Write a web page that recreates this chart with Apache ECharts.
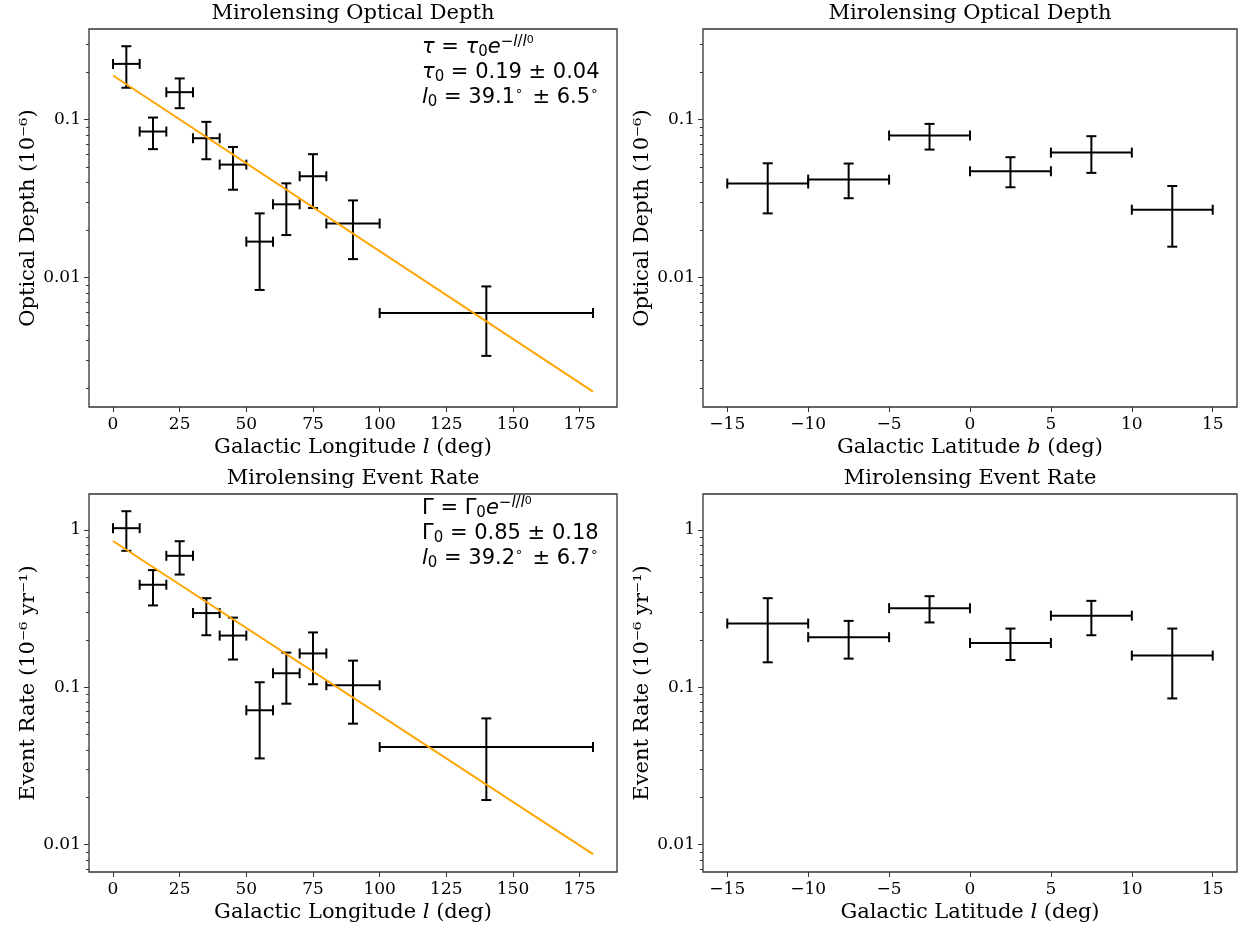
<!DOCTYPE html>
<html>
<head>
<meta charset="utf-8">
<script src="https://cdn.jsdelivr.net/npm/echarts@6/dist/echarts.min.js"></script>
<style>html,body{margin:0;padding:0;background:#fff}#c{width:1242px;height:929px}</style>
</head>
<body>
<div id="c"></div>
<script>
// ---------- data ----------
const lonCenter = [5, 15, 25, 35, 45, 55, 65, 75, 90, 140];
const lonLow    = [0, 10, 20, 30, 40, 50, 60, 70, 80, 100];
const lonHigh   = [10, 20, 30, 40, 50, 60, 70, 80, 100, 180];

const depthLon   = [0.225, 0.084, 0.149, 0.0762, 0.0519, 0.0169, 0.0291, 0.0438, 0.022, 0.00597];
const depthLonLo = [0.159, 0.065, 0.118, 0.0561, 0.036, 0.00836, 0.0186, 0.0276, 0.0131, 0.0032];
const depthLonHi = [0.291, 0.103, 0.182, 0.0967, 0.0671, 0.0255, 0.0395, 0.0604, 0.0308, 0.0088];

const rateLon   = [1.025, 0.448, 0.684, 0.296, 0.213, 0.0714, 0.1227, 0.164, 0.103, 0.0417];
const rateLonLo = [0.736, 0.331, 0.52, 0.214, 0.150, 0.0353, 0.0786, 0.1045, 0.0587, 0.0192];
const rateLonHi = [1.314, 0.555, 0.847, 0.368, 0.277, 0.1076, 0.166, 0.223, 0.1476, 0.0634];

const latCenter = [-12.5, -7.5, -2.5, 2.5, 7.5, 12.5];
const latLow    = [-15, -10, -5, 0, 5, 10];
const latHigh   = [-10, -5, 0, 5, 10, 15];

const depthLat   = [0.0394, 0.0417, 0.0792, 0.0471, 0.0618, 0.0269];
const depthLatLo = [0.0255, 0.0318, 0.0646, 0.0373, 0.046, 0.0157];
const depthLatHi = [0.0529, 0.0527, 0.0939, 0.0578, 0.0785, 0.038];

const rateLat   = [0.254, 0.208, 0.318, 0.191, 0.285, 0.159];
const rateLatLo = [0.144, 0.152, 0.258, 0.149, 0.214, 0.0849];
const rateLatHi = [0.368, 0.264, 0.379, 0.236, 0.354, 0.236];

// fit lines (endpoints)
const depthFitL = [0, 180];
const depthFitV = [0.19, 0.0019];
const rateFitL  = [0, 180];
const rateFitV  = [0.85, 0.0087];

// tick labels
const lonTicks = [0, 25, 50, 75, 100, 125, 150, 175];
const latTicks = [-15, -10, -5, 0, 5, 10, 15];
const logMajor = [0.001, 0.01, 0.1, 1];
const logMinor = [0.002,0.003,0.004,0.005,0.006,0.007,0.008,0.009,
                  0.02,0.03,0.04,0.05,0.06,0.07,0.08,0.09,
                  0.2,0.3,0.4,0.5,0.6,0.7,0.8,0.9];

// ---------- build ----------
const SERIF = 'DejaVu Serif';
const MATH = 'DejaVu Sans';
const AX = '#333';

const grids = [
  {left: 89,  top: 29,  width: 528, height: 378},
  {left: 703, top: 29,  width: 534, height: 378},
  {left: 89,  top: 494, width: 528, height: 378},
  {left: 703, top: 494, width: 534, height: 378}
];
const xRanges = [[-9, 189], [-16.5, 16.5], [-9, 189], [-16.5, 16.5]];
const yRanges = [[0.00152, 0.374], [0.00152, 0.374], [0.0067, 1.69], [0.0067, 1.69]];
const xNames = ['Galactic Longitude {i|l} (deg)', 'Galactic Latitude {i|b} (deg)',
                'Galactic Longitude {i|l} (deg)', 'Galactic Latitude {i|l} (deg)'];
const yNames = ['Optical Depth (10⁻⁶)', 'Optical Depth (10⁻⁶)',
                'Event Rate (10⁻⁶ yr⁻¹)', 'Event Rate (10⁻⁶ yr⁻¹)'];
const titles = ['Mirolensing Optical Depth', 'Mirolensing Optical Depth',
                'Mirolensing Event Rate', 'Mirolensing Event Rate'];

function inRange(vals, r) { return vals.filter(v => v >= r[0] && v <= r[1]); }
function fmtLog(v) { return v >= 1 ? String(Math.round(v)) : String(+Number(v).toPrecision(1)); }

const xAxis = grids.map((g, i) => {
  const ticks = (i % 2 === 0) ? lonTicks : latTicks;
  return {
    type: 'value', gridIndex: i, min: xRanges[i][0], max: xRanges[i][1], position: 'bottom',
    axisLine: {show: false, onZero: false},
    axisTick: {show: true, length: 5, lineStyle: {color: AX, width: 1}, customValues: ticks},
    axisLabel: {show: true, customValues: ticks, margin: 9, color: '#000',
                fontFamily: SERIF, fontSize: 17,
                formatter: v => String(v).replace('-', '\u2212')},
    splitLine: {show: false},
    name: xNames[i], nameLocation: 'middle', nameGap: 30,
    nameTextStyle: {fontFamily: SERIF, fontSize: 21, color: '#000',
                    rich: {i: {fontFamily: SERIF, fontStyle: 'italic', fontSize: 21, color: '#000'}}}
  };
});

const yAxis = [];
grids.forEach((g, i) => {
  const major = inRange(logMajor, yRanges[i]);
  yAxis.push({
    type: 'log', logBase: 10, gridIndex: i, min: yRanges[i][0], max: yRanges[i][1], position: 'left',
    axisLine: {show: false, onZero: false},
    axisTick: {show: true, length: 5, lineStyle: {color: AX, width: 1}, customValues: major},
    axisLabel: {show: true, customValues: major, margin: 8, color: '#000',
                fontFamily: SERIF, fontSize: 17, formatter: v => fmtLog(v)},
    splitLine: {show: false},
    name: yNames[i], nameLocation: 'middle', nameGap: 50,
    nameTextStyle: {fontFamily: SERIF, fontSize: 21, color: '#000'}
  });
});
grids.forEach((g, i) => {
  const minor = inRange(logMinor, yRanges[i]);
  yAxis.push({
    type: 'log', logBase: 10, gridIndex: i, min: yRanges[i][0], max: yRanges[i][1], position: 'left', offset: 0,
    axisLine: {show: false, onZero: false},
    axisTick: {show: true, length: 3, lineStyle: {color: AX, width: 1}, customValues: minor},
    axisLabel: {show: false},
    splitLine: {show: false}
  });
});

function errRender(params, api) {
  const x = api.value(0), y = api.value(1);
  const xl = api.value(2), xh = api.value(3), yl = api.value(4), yh = api.value(5);
  const c = api.coord([x, y]);
  const a = api.coord([xl, y]), b = api.coord([xh, y]);
  const lo = api.coord([x, yl]), hi = api.coord([x, yh]);
  const cap = 5;
  const st = {stroke: '#000', lineWidth: 2, fill: null};
  const L = (x1, y1, x2, y2) => ({type: 'line', shape: {x1, y1, x2, y2}, style: st});
  return {type: 'group', children: [
    L(a[0], c[1], b[0], c[1]),
    L(a[0], c[1] - cap, a[0], c[1] + cap),
    L(b[0], c[1] - cap, b[0], c[1] + cap),
    L(c[0], hi[1], c[0], lo[1]),
    L(c[0] - cap, hi[1], c[0] + cap, hi[1]),
    L(c[0] - cap, lo[1], c[0] + cap, lo[1])
  ]};
}

function errData(xc, xl, xh, v, lo, hi) {
  return xc.map((x, k) => [x, v[k], xl[k], xh[k], lo[k], hi[k]]);
}

const series = [
  {type: 'custom', xAxisIndex: 0, yAxisIndex: 0, renderItem: errRender, encode: {x: 0, y: 1},
   data: errData(lonCenter, lonLow, lonHigh, depthLon, depthLonLo, depthLonHi), z: 3},
  {type: 'custom', xAxisIndex: 1, yAxisIndex: 1, renderItem: errRender, encode: {x: 0, y: 1},
   data: errData(latCenter, latLow, latHigh, depthLat, depthLatLo, depthLatHi), z: 3},
  {type: 'custom', xAxisIndex: 2, yAxisIndex: 2, renderItem: errRender, encode: {x: 0, y: 1},
   data: errData(lonCenter, lonLow, lonHigh, rateLon, rateLonLo, rateLonHi), z: 3},
  {type: 'custom', xAxisIndex: 3, yAxisIndex: 3, renderItem: errRender, encode: {x: 0, y: 1},
   data: errData(latCenter, latLow, latHigh, rateLat, rateLatLo, rateLatHi), z: 3},
  {type: 'line', xAxisIndex: 0, yAxisIndex: 0, showSymbol: false, symbol: 'none',
   data: depthFitL.map((l, k) => [l, depthFitV[k]]), lineStyle: {color: '#FFA500', width: 2}, z: 4},
  {type: 'line', xAxisIndex: 2, yAxisIndex: 2, showSymbol: false, symbol: 'none',
   data: rateFitL.map((l, k) => [l, rateFitV[k]]), lineStyle: {color: '#FFA500', width: 2}, z: 4}
];

const mathRich = {
  n:   {fontFamily: MATH, fontSize: 21, lineHeight: 25, fill: '#000'},
  mi:  {fontFamily: MATH, fontStyle: 'italic', fontSize: 21, lineHeight: 25, fill: '#000'},
  sub: {fontFamily: MATH, fontSize: 15, lineHeight: 14, verticalAlign: 'bottom', fill: '#000'},
  sup: {fontFamily: MATH, fontSize: 15, lineHeight: 12, verticalAlign: 'top', fill: '#000'},
  supi:{fontFamily: MATH, fontStyle: 'italic', fontSize: 15, lineHeight: 12, verticalAlign: 'top', fill: '#000'},
  supsub:{fontFamily: MATH, fontSize: 11, lineHeight: 20, verticalAlign: 'top', fill: '#000'},
  deg: {fontFamily: MATH, fontSize: 13, lineHeight: 10, verticalAlign: 'top', fill: '#000'}
};

const ann1 = '{mi|τ}{n| = }{mi|τ}{sub|0}{mi|e}{sup|−}{supi|l}{sup|/}{supi|l}{supsub|0}\n' +
             '{mi|τ}{sub|0}{n| = 0.19 ± 0.04}\n' +
             '{mi|l}{sub|0}{n| = 39.1}{deg|∘\u2009}{n| ± 6.5}{deg|∘}';
const ann3 = '{n|Γ = Γ}{sub|0}{mi|e}{sup|−}{supi|l}{sup|/}{supi|l}{supsub|0}\n' +
             '{n|Γ}{sub|0}{n| = 0.85 ± 0.18}\n' +
             '{mi|l}{sub|0}{n| = 39.2}{deg|∘\u2009}{n| ± 6.7}{deg|∘}';

const graphic = grids.map((g, i) => ({
  type: 'text', x: g.left + g.width / 2, y: g.top - 15,
  style: {text: titles[i], fontFamily: SERIF, fontSize: 21, fill: '#000',
          align: 'center', verticalAlign: 'middle'}
}));
graphic.push({type: 'text', x: 422, y: 35,
  style: {text: ann1, rich: mathRich, align: 'left', verticalAlign: 'top', fontFamily: MATH, fontSize: 21, fill: '#000'}});
graphic.push({type: 'text', x: 422, y: 496,
  style: {text: ann3, rich: mathRich, align: 'left', verticalAlign: 'top', fontFamily: MATH, fontSize: 21, fill: '#000'}});

const chart = echarts.init(document.getElementById('c'), null, {renderer: 'canvas'});
chart.setOption({
  animation: false,
  backgroundColor: '#fff',
  grid: grids.map(g => Object.assign({show: true, borderColor: AX, borderWidth: 1.3, backgroundColor: 'transparent', containLabel: false}, g)),
  xAxis, yAxis, series, graphic
});
</script>
</body>
</html>
